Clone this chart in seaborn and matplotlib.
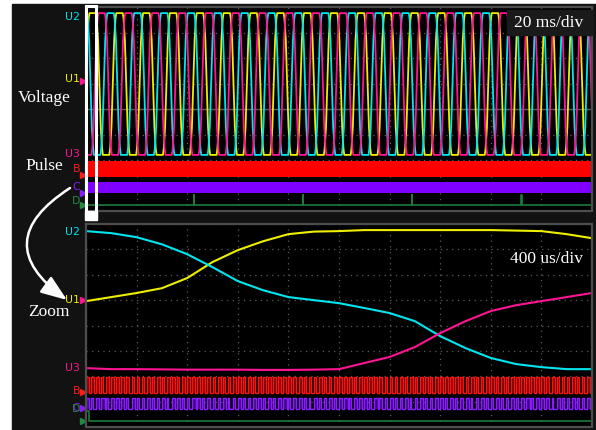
import numpy as np
import pandas as pd
import matplotlib
matplotlib.use("Agg")
import matplotlib.pyplot as plt
import matplotlib.transforms as mtransforms
from matplotlib.patches import Rectangle, FancyArrowPatch
import seaborn as sns

# ---------------- data (levels in screen divisions, 0..8) ----------------
# top view: 20 ms/div, 0..200 ms; one period of the phase voltage
period_ms = 10.6
n_periods = 21
wave_phase = [0.0, 0.05, 0.10, 0.13, 0.37, 0.40, 0.45, 0.50, 0.55, 0.60, 0.63, 0.87, 0.90, 0.95]
wave_level = [5.0, 6.7, 7.55, 7.76, 7.76, 7.55, 6.7, 5.0, 3.3, 2.45, 2.2, 2.2, 2.45, 3.3]
phase_names = ["U1", "U2", "U3"]
phase_shift = [0.0, 1 / 3, 2 / 3]
phase_colors = ["#eeee00", "#00e6ef", "#ff1493"]

b_band = [1.34, 1.97]          # red pulse band (too dense to resolve at 20 ms/div)
c_band = [0.70, 1.12]          # purple pulse band
d_low, d_high = 0.24, 0.63
d_spike_ms = [42.7, 85.8, 128.9, 172.0]

# zoom view: 400 us/div, 0..4000 us, read every 200 us
t_zoom = [0, 200, 400, 600, 800, 1000, 1200, 1400, 1600, 1800, 2000,
          2200, 2400, 2600, 2800, 3000, 3200, 3400, 3600, 3800, 4000]
u1_zoom = [4.96, 5.12, 5.28, 5.47, 5.87, 6.50, 6.97, 7.32, 7.60, 7.70, 7.72,
           7.76, 7.76, 7.76, 7.76, 7.76, 7.76, 7.74, 7.72, 7.60, 7.44]
u2_zoom = [7.72, 7.64, 7.48, 7.20, 6.81, 6.30, 5.75, 5.39, 5.12, 5.00, 4.88,
           4.69, 4.49, 4.17, 3.58, 3.11, 2.72, 2.48, 2.36, 2.28, 2.28]
u3_zoom = [2.32, 2.28, 2.28, 2.27, 2.26, 2.26, 2.26, 2.25, 2.25, 2.26, 2.28,
           2.52, 2.76, 3.15, 3.70, 4.17, 4.57, 4.80, 4.96, 5.12, 5.28]

pwm_period_us = 40
b_duty = [0.55, 0.5, 0.6, 0.45, 0.55, 0.5, 0.6, 0.5, 0.45, 0.55]
c_duty = [0.6, 0.4, 0.5, 0.7, 0.3, 0.5, 0.6, 0.45, 0.35, 0.65, 0.5, 0.4]
b_zoom_band = [1.34, 1.97]
c_zoom_band = [0.71, 1.14]
d_zoom_step_us = 25

W, H = 596, 430


def px_rect(x0, y0, x1, y1):
    return [x0 / W, 1 - y1 / H, (x1 - x0) / W, (y1 - y0) / H]


def fx(x):
    return x / W


def fy(y):
    return 1 - y / H


sns.set_theme(style="dark", rc={"axes.facecolor": "black", "figure.facecolor": "white"})
plt.rcParams["font.family"] = ["DejaVu Sans"]

fig = plt.figure(figsize=(W / 100, H / 100), dpi=100)
fig.patches.append(Rectangle((fx(12), 0), 1 - fx(12), fy(4), transform=fig.transFigure,
                             color="#121212", zorder=-5))

ax_top = fig.add_axes(px_rect(86, 7, 592, 211))
ax_bot = fig.add_axes(px_rect(86, 224, 592, 427))

for ax, xmax in [(ax_top, 200), (ax_bot, 4000)]:
    ax.set_facecolor("black")
    ax.set_xlim(0, xmax)
    ax.set_ylim(0, 8)
    ax.set_xticks(np.linspace(0, xmax, 11))
    ax.set_yticks(range(9))
    ax.grid(True, color="#5a5a5a", linestyle=(0, (1, 3.5)), linewidth=0.9)
    ax.tick_params(left=False, bottom=False, labelleft=False, labelbottom=False)
    for s in ax.spines.values():
        s.set_color("#4d4d4d")
        s.set_linewidth(1.6)
ax_top.axhline(4, color="#5e5e5e", lw=1.0, zorder=1)

# ---------------- top panel ----------------
rows = []
for name, shift in zip(phase_names, phase_shift):
    for k in range(-1, n_periods):
        for p, lv in zip(wave_phase, wave_level):
            rows.append({"t": (k + p - shift) * period_ms, "v": lv, "ch": name})
df_top = pd.DataFrame(rows)
df_top = df_top[(df_top.t > -period_ms) & (df_top.t < 200 + period_ms)]
sns.lineplot(data=df_top, x="t", y="v", hue="ch", palette=dict(zip(phase_names, phase_colors)),
             estimator=None, sort=True, lw=1.3, legend=False, ax=ax_top)

ax_top.fill_between([0, 200], b_band[0], b_band[1], color="#ff0000", lw=0)
ax_top.fill_between([0, 200], c_band[0], c_band[1], color="#7f00ff", lw=0)
d_t, d_v = [0], [d_low]
for ts in d_spike_ms:
    d_t += [ts, ts, ts + 0.15, ts + 0.15]
    d_v += [d_low, d_high, d_high, d_low]
d_t.append(200)
d_v.append(d_low)
ax_top.plot(d_t, d_v, color="#1f7a3a", lw=1.2)

# ---------------- zoom panel ----------------
df_zoom = pd.DataFrame({"t": t_zoom * 3, "v": u1_zoom + u2_zoom + u3_zoom,
                        "ch": ["U1"] * len(t_zoom) + ["U2"] * len(t_zoom) + ["U3"] * len(t_zoom)})
sns.lineplot(data=df_zoom, x="t", y="v", hue="ch", palette=dict(zip(phase_names, phase_colors)),
             estimator=None, lw=1.5, legend=False, ax=ax_bot)


def pulse_train(duty, lo, hi, n):
    duty = np.resize(duty, n)
    xs, ys = [], []
    for i, d in enumerate(duty):
        t0 = i * pwm_period_us
        xs += [t0, t0, t0 + d * pwm_period_us, t0 + d * pwm_period_us]
        ys += [lo, hi, hi, lo]
    return np.array(xs), np.array(ys)


n_pulses = 4000 // pwm_period_us
bx, by = pulse_train(b_duty, b_zoom_band[0], b_zoom_band[1], n_pulses)
ax_bot.fill_between(bx, b_zoom_band[0], by, color="#7a0000", lw=0)
ax_bot.plot(bx, by, color="#ff1010", lw=1.0)
cx, cy = pulse_train(c_duty, c_zoom_band[0], c_zoom_band[1], n_pulses)
ax_bot.fill_between(cx, c_zoom_band[0], cy, color="#3d0a80", lw=0)
ax_bot.plot(cx, cy, color="#8a1aff", lw=1.0)
ax_bot.plot([0, d_zoom_step_us, d_zoom_step_us, 4000], [d_high, d_high, d_low, d_low],
            color="#1f7a3a", lw=1.2)

# ---------------- channel labels and markers ----------------
top_labels = [("U2", 7.6, "#00e6ef"), ("U1", 5.16, "#eeee00"), ("U3", 2.24, "#ff1493"),
              ("B", 1.65, "#ff1a1a"), ("C", 0.94, "#8a1aff"), ("D", 0.39, "#1f8a40")]
top_marks = [(5.08, "#ff1493"), (1.42, "#ff1a1a"), (0.71, "#8a1aff"), (0.24, "#1f8a40")]
bot_labels = [("U2", 7.68, "#00e6ef"), ("U1", 5.0, "#eeee00"), ("U3", 2.32, "#ff1493"),
              ("B", 1.42, "#ff1a1a"), ("C", 0.75, "#8a1aff"), ("D", 0.70, "#1f8a40")]
bot_marks = [(5.0, "#ff1493"), (1.38, "#ff1a1a"), (0.75, "#8a1aff"), (0.24, "#1f8a40")]

for ax, labels, marks in [(ax_top, top_labels, top_marks), (ax_bot, bot_labels, bot_marks)]:
    tr = mtransforms.blended_transform_factory(ax.transAxes, ax.transData)
    for txt, yv, col in labels:
        ax.text(-0.012, yv, txt, transform=tr, color=col, fontsize=7.8, ha="right", va="center",
                family=["Liberation Sans Narrow", "DejaVu Sans"])
    for yv, col in marks:
        ax.plot([-0.006], [yv], marker=">", ms=4.5, color=col, transform=tr, clip_on=False, lw=0)

# ---------------- annotations ----------------
serif = dict(family="Liberation Serif", fontsize=12.5, color="white")
fig.text(fx(18), fy(98), "Voltage", ha="left", va="center", **serif)
fig.text(fx(25), fy(166), "Pulse", ha="left", va="center", **serif)
fig.text(fx(28), fy(312), "Zoom", ha="left", va="center", **serif)
fig.patches.append(Rectangle((fx(507), fy(35)), fx(592) - fx(507), fy(10) - fy(35),
                             transform=fig.transFigure, color="#1a1a1a", zorder=3))
fig.text(fx(549), fy(23), "20 ms/div", ha="center", va="center", zorder=4, **serif)
fig.text(fx(546), fy(259), "400 us/div", ha="center", va="center", **serif)

# zoom window marker on the top panel
fig.patches.append(Rectangle((fx(86), fy(219)), fx(96) - fx(86), fy(6) - fy(219),
                             transform=fig.transFigure, fill=False, ec="white", lw=2.2, zorder=5))
fig.patches.append(Rectangle((fx(85), fy(220)), fx(97) - fx(85), fy(211) - fy(220),
                             transform=fig.transFigure, color="white", zorder=5))

arrow = FancyArrowPatch((fx(70), fy(188)), (fx(67), fy(300)), transform=fig.transFigure,
                        connectionstyle="arc3,rad=0.73",
                        arrowstyle="-|>,head_length=1.6,head_width=0.6", mutation_scale=10,
                        color="white", lw=1.8, shrinkA=0, shrinkB=0, zorder=6)
fig.patches.append(arrow)

fig.savefig("out.png", dpi=100, facecolor="white")
